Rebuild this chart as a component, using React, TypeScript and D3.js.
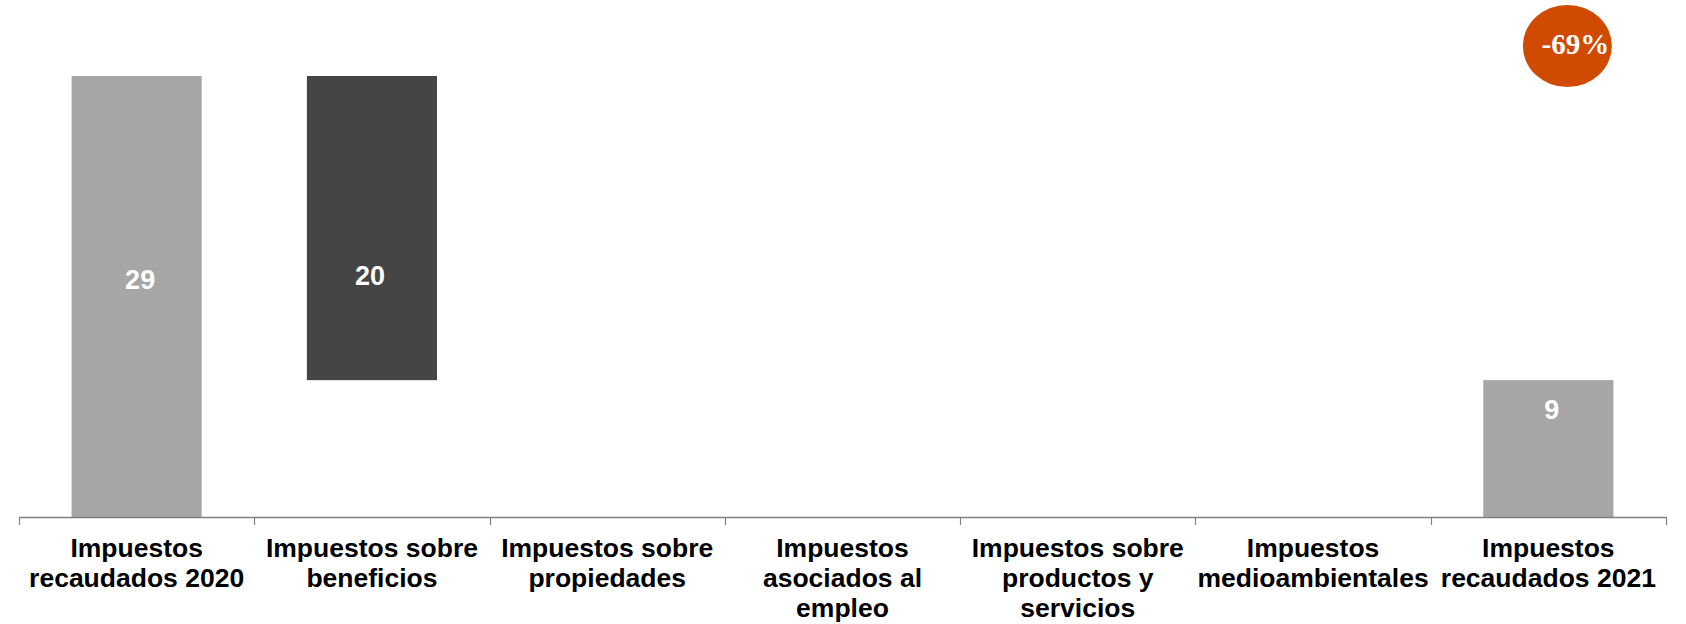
import React from "react";
import * as d3 from "d3";

const categories: string[][] = [
  ["Impuestos", "recaudados 2020"],
  ["Impuestos sobre", "beneficios"],
  ["Impuestos sobre", "propiedades"],
  ["Impuestos", "asociados al", "empleo"],
  ["Impuestos sobre", "productos y", "servicios"],
  ["Impuestos", "medioambientales"],
  ["Impuestos", "recaudados 2021"],
];
const changes: number[] = [29, -20, 0, 0, 0, 0, 9];
const kinds: string[] = ["total", "delta", "delta", "delta", "delta", "delta", "total"];
const valueLabels: (string | null)[] = ["29", "20", null, null, null, null, "9"];
// value-space anchor where each data label sits
const labelAnchors: (number | null)[] = [15.6, 15.9, null, null, null, null, 7.1];

const W = 1686;
const H = 624;

export default function App() {
  const x = d3
    .scaleBand<number>()
    .domain(categories.map((_, i) => i))
    .range([19, 1666])
    .paddingInner(0.447)
    .paddingOuter(0.2235);
  const y = d3.scaleLinear().domain([0, 29]).range([517, 76]);

  let run = 0;
  const bars = changes.map((v, i) => {
    let lo: number, hi: number;
    if (kinds[i] === "total") {
      lo = 0;
      hi = v;
      run = v;
    } else {
      const next = run + v;
      lo = Math.min(run, next);
      hi = Math.max(run, next);
      run = next;
    }
    return { i, lo, hi, kind: kinds[i] };
  });

  const step = x.step();
  const start = changes[0];
  const end = changes[changes.length - 1];
  const pct = d3.format(".0%")((end - start) / start).replace("−", "-");
  const lastCx = (x(categories.length - 1) as number) + x.bandwidth() / 2;

  return (
    <svg
      width={W}
      height={H}
      style={{ position: "absolute", left: 0, top: 0, background: "#fff" }}
    >
      {bars.map((b) =>
        b.hi - b.lo > 0 ? (
          <rect
            key={b.i}
            x={x(b.i)}
            y={y(b.hi)}
            width={x.bandwidth()}
            height={y(b.lo) - y(b.hi)}
            fill={b.kind === "total" ? "#A6A6A6" : "#454545"}
          />
        ) : null
      )}
      {valueLabels.map((t, i) =>
        t && labelAnchors[i] != null ? (
          <text
            key={i}
            x={(x(i) as number) + x.bandwidth() / 2 + (kinds[i] === "total" ? 3.5 : -2)}
            y={y(labelAnchors[i] as number)}
            dy="0.36em"
            textAnchor="middle"
            fill="#fff"
            fontFamily="'Liberation Sans', Arial, sans-serif"
            fontWeight="bold"
            fontSize={27}
          >
            {t}
          </text>
        ) : null
      )}
      <line x1={19} x2={1666} y1={517.5} y2={517.5} stroke="#808080" strokeWidth={1.5} />
      {d3.range(categories.length + 1).map((k) => {
        const tx = Math.round(19 + k * step) + 0.5;
        return <line key={k} x1={tx} x2={tx} y1={517} y2={525} stroke="#808080" strokeWidth={1.2} />;
      })}
      {categories.map((lines, i) => (
        <text
          key={i}
          x={(x(i) as number) + x.bandwidth() / 2}
          y={557}
          textAnchor="middle"
          fill="#000"
          fontFamily="'Liberation Sans', Arial, sans-serif"
          fontWeight="bold"
          fontSize={26.5}
        >
          {lines.map((l, j) => (
            <tspan key={j} x={(x(i) as number) + x.bandwidth() / 2} dy={j === 0 ? 0 : 30}>
              {l}
            </tspan>
          ))}
        </text>
      ))}
      <ellipse cx={lastCx + 19} cy={46} rx={44.5} ry={41} fill="#D04A02" />
      <text
        x={lastCx + 27}
        y={54}
        textAnchor="middle"
        fill="#fff"
        fontFamily="'Liberation Serif', Georgia, serif"
        fontWeight="bold"
        fontSize={29}
      >
        {pct}
      </text>
    </svg>
  );
}
